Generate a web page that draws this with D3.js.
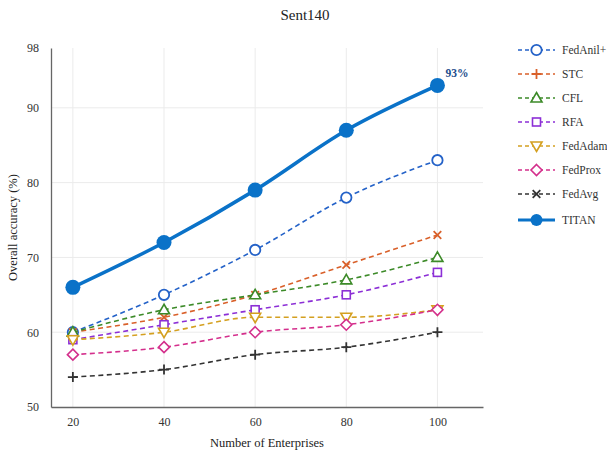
<!DOCTYPE html>
<html><head><meta charset="utf-8">
<script src="https://cdn.jsdelivr.net/npm/d3@7"></script>
<style>body{margin:0;background:#fff}svg{font-family:"Liberation Serif","Times New Roman",serif}</style>
</head><body><svg id="c" width="607" height="457"></svg>
<script>
const enterprises = [20, 40, 60, 80, 100];
const xTicks = [20, 40, 60, 80, 100];
const yTicks = [50, 60, 70, 80, 90, 98];
const seriesNames = ["FedAnil+", "STC", "CFL", "RFA", "FedAdam", "FedProx", "FedAvg", "TITAN"];
const fedAnilPlus = [60, 65, 71, 78, 83];
const stc = [60, 62, 65, 69, 73];
const cfl = [60, 63, 65, 67, 70];
const rfa = [59, 61, 63, 65, 68];
const fedAdam = [59, 60, 62, 62, 63];
const fedProx = [57, 58, 60, 61, 63];
const fedAvg = [54, 55, 57, 58, 60];
const titan = [66, 72, 79, 87, 93];
const titanLabel = "93%";

const styles = {
  "FedAnil+": {color:"#2462c8", sym:"circle", dash:true},
  "STC": {color:"#d9602a", sym:"x", legendSym:"plus", dash:true},
  "CFL": {color:"#3c8a28", sym:"triangle", dash:true},
  "RFA": {color:"#8c2fd6", sym:"square", dash:true},
  "FedAdam": {color:"#d4a020", sym:"triangleDown", dash:true},
  "FedProx": {color:"#d42f8c", sym:"diamond", dash:true},
  "FedAvg": {color:"#333333", sym:"plus", legendSym:"x", dash:true},
  "TITAN": {color:"#0a72c8", sym:"dot", dash:false}
};
const values = [fedAnilPlus, stc, cfl, rfa, fedAdam, fedProx, fedAvg, titan];

const svg = d3.select("#c");
const m = {l:51, r:124, t:48, b:50};
const W = 607, H = 457;
const x = d3.scaleLinear().domain([15.2, 110]).range([m.l, W - m.r]);
const y = d3.scaleLinear().domain([50, 98]).range([H - m.b, m.t]);

// grid
svg.append("g").selectAll("line").data(xTicks).join("line")
  .attr("x1", d => x(d)).attr("x2", d => x(d)).attr("y1", y(98)).attr("y2", y(50))
  .attr("stroke", "#ebebeb").attr("stroke-width", 1);
svg.append("g").selectAll("line").data(yTicks.filter(d => d > 50 && d < 98)).join("line")
  .attr("x1", x.range()[0]).attr("x2", x.range()[1]).attr("y1", d => y(d)).attr("y2", d => y(d))
  .attr("stroke", "#ebebeb").attr("stroke-width", 1);

// axes
const xAxis = svg.append("g").attr("transform", `translate(0,${y(50)})`)
  .call(d3.axisBottom(x).tickValues(xTicks).tickSize(0).tickPadding(10));
const yAxis = svg.append("g").attr("transform", `translate(${x.range()[0]},0)`)
  .call(d3.axisLeft(y).tickValues(yTicks).tickSize(0).tickPadding(12));
[xAxis, yAxis].forEach(a => {
  a.select(".domain").attr("stroke", "#666").attr("stroke-width", 1.3);
  a.selectAll("text").attr("font-family", "Liberation Serif").attr("font-size", 12).attr("fill", "#333");
});

// symbols
function drawSym(g, type, cx, cy, color, big) {
  const s = 4.5;
  if (type === "circle") g.append("circle").attr("cx", cx).attr("cy", cy).attr("r", 5.2).attr("fill", "#fff").attr("stroke", color).attr("stroke-width", 1.8);
  else if (type === "dot") g.append("circle").attr("cx", cx).attr("cy", cy).attr("r", big ? 7.5 : 6).attr("fill", color);
  else if (type === "square") g.append("rect").attr("x", cx - 4).attr("y", cy - 4).attr("width", 8).attr("height", 8).attr("fill", "#fff").attr("stroke", color).attr("stroke-width", 1.6);
  else if (type === "triangle") g.append("path").attr("d", `M${cx},${cy - 5.5}L${cx + 5.5},${cy + 4}L${cx - 5.5},${cy + 4}Z`).attr("fill", "#fff").attr("stroke", color).attr("stroke-width", 1.6);
  else if (type === "triangleDown") g.append("path").attr("d", `M${cx},${cy + 5.5}L${cx + 5.5},${cy - 4}L${cx - 5.5},${cy - 4}Z`).attr("fill", "#fff").attr("stroke", color).attr("stroke-width", 1.6);
  else if (type === "diamond") g.append("path").attr("d", `M${cx},${cy - 5.5}L${cx + 5.5},${cy}L${cx},${cy + 5.5}L${cx - 5.5},${cy}Z`).attr("fill", "#fff").attr("stroke", color).attr("stroke-width", 1.6);
  else if (type === "plus") g.append("path").attr("d", `M${cx - s - 0.5},${cy}H${cx + s + 0.5}M${cx},${cy - s - 0.5}V${cy + s + 0.5}`).attr("stroke", color).attr("stroke-width", 1.8).attr("fill", "none");
  else if (type === "x") g.append("path").attr("d", `M${cx - 3.8},${cy - 3.8}L${cx + 3.8},${cy + 3.8}M${cx - 3.8},${cy + 3.8}L${cx + 3.8},${cy - 3.8}`).attr("stroke", color).attr("stroke-width", 1.8).attr("fill", "none");
}

const line = d3.line().x(d => x(d[0])).y(d => y(d[1])).curve(d3.curveMonotoneX);
seriesNames.forEach((name, i) => {
  const st = styles[name];
  const pts = enterprises.map((e, j) => [e, values[i][j]]);
  const g = svg.append("g");
  g.append("path").attr("d", line(pts)).attr("fill", "none").attr("stroke", st.color)
    .attr("stroke-width", st.dash ? 1.6 : 3.5).attr("stroke-dasharray", st.dash ? "5,3.5" : null);
  pts.forEach(p => drawSym(g, st.sym, x(p[0]), y(p[1]), st.color, true));
});

// annotation
svg.append("text").attr("x", x(100) + 8).attr("y", y(93) - 8).text(titanLabel)
  .attr("font-size", 11.5).attr("font-weight", "bold").attr("fill", "#1d4d8c");

// legend
const lg = svg.append("g");
seriesNames.forEach((name, i) => {
  const st = styles[name];
  const ly = 50 + i * 24 + (i === 7 ? 2 : 0);
  lg.append("line").attr("x1", 518).attr("x2", 555).attr("y1", ly).attr("y2", ly)
    .attr("stroke", st.color).attr("stroke-width", st.dash ? 1.6 : 3).attr("stroke-dasharray", st.dash ? "4,3" : null);
  drawSym(lg, st.legendSym || st.sym, 536.5, ly, st.color, false);
  lg.append("text").attr("x", 562).attr("y", ly + 4).text(name).attr("font-size", 11.5).attr("fill", "#333");
});

// titles
svg.append("text").attr("x", 305).attr("y", 20).attr("text-anchor", "middle").attr("font-size", 15).attr("fill", "#222").text("Sent140");
svg.append("text").attr("x", (x.range()[0] + x.range()[1]) / 2).attr("y", 447).attr("text-anchor", "middle").attr("font-size", 12.5).attr("fill", "#222").text("Number of Enterprises");
svg.append("text").attr("transform", `translate(17,${(y(50) + y(98)) / 2}) rotate(-90)`).attr("text-anchor", "middle").attr("font-size", 12.5).attr("fill", "#222").text("Overall accuracy (%)");
</script></body></html>
